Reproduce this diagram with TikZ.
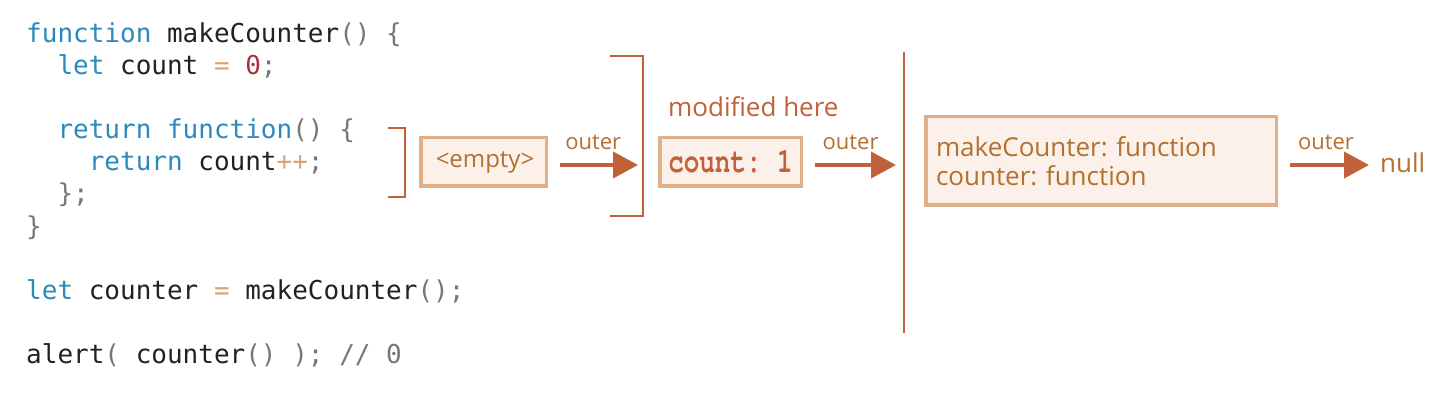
\documentclass[tikz,border=0pt]{standalone}
\usepackage{fontspec}
\setmainfont{Open Sans}
\setmonofont{DejaVu Sans Mono}
\newfontfamily\countfont[FakeStretch=0.74]{texgyrecursor-bold.otf}
\usetikzlibrary{arrows.meta}
\definecolor{kw}{HTML}{2A8ABD}
\definecolor{idf}{HTML}{222222}
\definecolor{pun}{HTML}{777777}
\definecolor{opr}{HTML}{D9A373}
\definecolor{num}{HTML}{A8323E}
\definecolor{rust}{HTML}{C0613A}
\definecolor{lbl}{HTML}{B3702E}
\definecolor{boxfill}{HTML}{FBF1EA}
\definecolor{boxline}{HTML}{E0B08A}
\newcommand{\kwd}[1]{\textcolor{kw}{#1}}
\newcommand{\pnc}[1]{\textcolor{pun}{#1}}
\newcommand{\opr}[1]{\textcolor{opr}{#1}}
\newcommand{\cnum}[1]{\textcolor{num}{#1}}
\frenchspacing
\begin{document}
\begin{tikzpicture}[x=1pt,y=-1pt,
  codeline/.style={font=\ttfamily\fontsize{26}{32}\selectfont,text=idf,anchor=base west,inner sep=0pt},
  envbox/.style={draw=boxline,fill=boxfill,line width=3.5pt,text=lbl,inner sep=0pt},
  notetext/.style={font=\fontsize{26}{29}\selectfont,inner sep=0pt,anchor=base west},
  outerlbl/.style={font=\fontsize{22}{22}\selectfont,text=lbl,inner sep=0pt,anchor=base,yshift=15pt},
  outerarrow/.style={draw=rust,line width=4pt,-{Triangle[length=25pt,width=26pt]}},
  bracketline/.style={draw=rust,line width=2pt}]
\path[use as bounding box,fill=white](0,0)rectangle(1452,417);
% code
\node[codeline](l1)at(26,43){\kwd{function} makeCounter\pnc{()} \pnc{\{}};
\node[codeline](l2)at(26,75){\ \ \kwd{let} count \opr{=} \cnum{0}\pnc{;}};
\node[codeline](l3)at(26,139){\ \ \kwd{return} \kwd{function}\pnc{()} \pnc{\{}};
\node[codeline](l4)at(26,171){\ \ \ \ \kwd{return} count\opr{++}\pnc{;}};
\node[codeline](l5)at(26,203){\ \ \pnc{\};}};
\node[codeline](l6)at(26,235){\pnc{\}}};
\node[codeline](l7)at(26,299){\kwd{let} counter \opr{=} makeCounter\pnc{();}};
\node[codeline](l8)at(26,363){alert\pnc{(} counter\pnc{()} \pnc{);} \pnc{// 0}};
% brackets
\draw[bracketline](388,128)-|(405,197)--(388,197);
\draw[bracketline](610,56)-|(643,216)--(610,216);
\draw[bracketline,line width=2.5pt](904,52)--(904,333);
\coordinate(wall1)at(643,56);
\coordinate(wall2)at(904,52);
% environments
\node[envbox,minimum width=125.5pt,minimum height=48.5pt,font=\fontsize{24}{28}\selectfont](empty)at(483.5,162){\hspace{3pt}<empty>};
\node[envbox,minimum width=141.5pt,minimum height=48.5pt,text=rust,font=\countfont\fontsize{35}{35}\selectfont](cnt)at(730.5,162){count: 1};
\node[envbox,minimum width=350.5pt,minimum height=88.5pt,text width=330pt,align=left,font=\fontsize{26}{29}\selectfont](lex)at(1101,161){makeCounter: function\\counter: function};
\node[notetext,text=rust](mod)at(668,117){modified here};
\node[notetext,text=lbl](null)at(1380,173){null};
% outer references
\coordinate(a1)at([xshift=12pt,yshift=-3pt]empty.east);
\coordinate(a2)at([xshift=12pt,yshift=-3pt]cnt.east);
\coordinate(a3)at([xshift=12pt,yshift=-4pt]lex.east);
\draw[outerarrow,shorten >=5pt](a1)--(a1-|wall1)node[outerlbl,pos=0.4]{outer};
\draw[outerarrow,shorten >=8pt](a2)--(a2-|wall2)node[outerlbl,pos=0.4]{outer};
\draw[outerarrow,shorten >=11pt](a3)--(a3-|null.west)node[outerlbl,pos=0.4]{outer};
\end{tikzpicture}
\end{document}
